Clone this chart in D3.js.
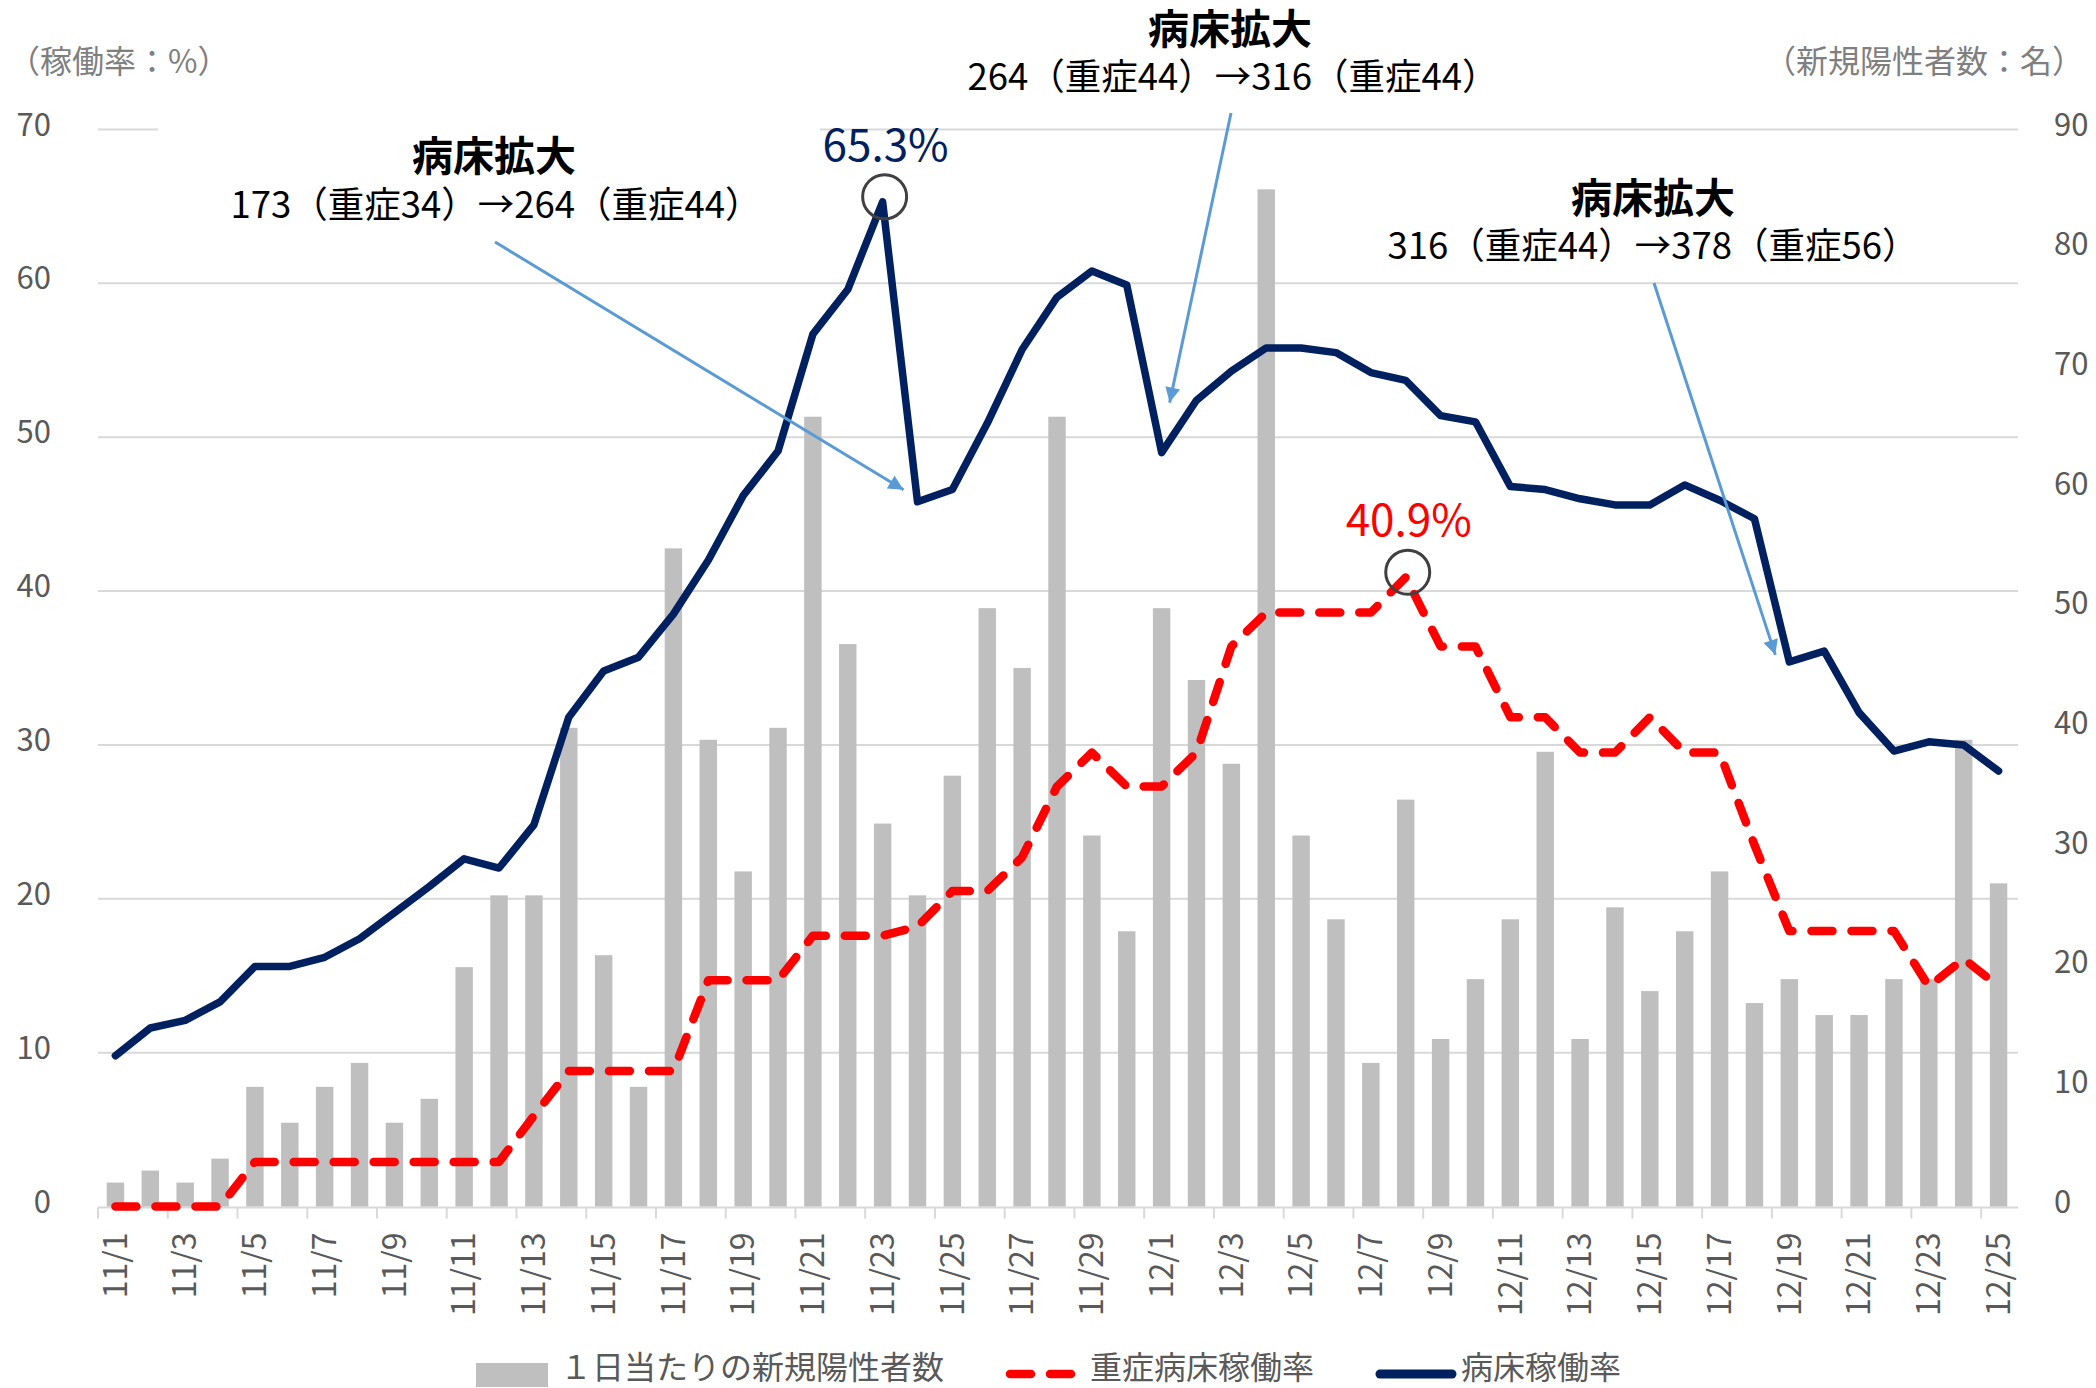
<!DOCTYPE html>
<html lang="ja">
<head>
<meta charset="utf-8">
<title>病床稼働率と新規陽性者数</title>
<script src="https://cdn.jsdelivr.net/npm/d3@7"></script>
<style>
	body { margin: 0; background: #fff; }
	svg { display: block; font-family: 'Noto Sans CJK JP', 'Noto Sans', sans-serif; }
</style>
</head>
<body>
<svg id="chart"></svg>
<script>
// ---- data ----
const dates = [
	'11/1', '11/2', '11/3', '11/4', '11/5', '11/6', '11/7', '11/8', '11/9', '11/10',
	'11/11', '11/12', '11/13', '11/14', '11/15', '11/16', '11/17', '11/18', '11/19', '11/20',
	'11/21', '11/22', '11/23', '11/24', '11/25', '11/26', '11/27', '11/28', '11/29', '11/30',
	'12/1', '12/2', '12/3', '12/4', '12/5', '12/6', '12/7', '12/8', '12/9', '12/10',
	'12/11', '12/12', '12/13', '12/14', '12/15', '12/16', '12/17', '12/18', '12/19', '12/20',
	'12/21', '12/22', '12/23', '12/24', '12/25',
];

// 1日当たりの新規陽性者数 (right axis)
const newCases = [
	2, 3, 2, 4, 10, 7, 10, 12, 7, 9,
	20, 26, 26, 40, 21, 10, 55, 39, 28, 40,
	66, 47, 32, 26, 36, 50, 45, 66, 31, 23,
	50, 44, 37, 85, 31, 24, 12, 34, 14, 19,
	24, 38, 14, 25, 18, 23, 28, 17, 19, 16,
	16, 19, 19, 39, 27,
];

// 重症病床稼働率 (left axis, %)
const severeRate = [
	0, 0, 0, 0, 2.9, 2.9, 2.9, 2.9, 2.9, 2.9,
	2.9, 2.9, 5.9, 8.8, 8.8, 8.8, 8.8, 14.7, 14.7, 14.7,
	17.6, 17.6, 17.6, 18.2, 20.5, 20.5, 22.7, 27.3, 29.5, 27.3,
	27.3, 29.5, 36.4, 38.6, 38.6, 38.6, 38.6, 40.9, 36.4, 36.4,
	31.8, 31.8, 29.5, 29.5, 31.8, 29.5, 29.5, 23.5, 17.9, 17.9,
	17.9, 17.9, 14.3, 16.1, 14.3,
];

// 病床稼働率 (left axis, %)
const bedRate = [
	9.8, 11.6, 12.1, 13.3, 15.6, 15.6, 16.2, 17.4, 19.1, 20.8,
	22.6, 22.0, 24.8, 31.8, 34.8, 35.7, 38.5, 42.0, 46.2, 49.1,
	56.7, 59.6, 65.3, 45.8, 46.6, 50.9, 55.7, 59.1, 60.8, 59.9,
	49.0, 52.4, 54.3, 55.8, 55.8, 55.5, 54.2, 53.7, 51.4, 51.0,
	46.8, 46.6, 46.0, 45.6, 45.6, 46.9, 45.9, 44.7, 35.4, 36.1,
	32.1, 29.6, 30.2, 30.0, 28.3,
];

const rateTicks = [0, 10, 20, 30, 40, 50, 60, 70];
const caseTicks = [0, 10, 20, 30, 40, 50, 60, 70, 80, 90];

const axisTitles = ['（稼働率：%）', '（新規陽性者数：名）'];
const legendLabels = ['１日当たりの新規陽性者数', '重症病床稼働率', '病床稼働率'];

// bed expansion notes, each pointing at a day of the 病床稼働率 line
const expansionTitles = ['病床拡大', '病床拡大', '病床拡大'];
const expansionTexts = [
	'173（重症34）→264（重症44）',
	'264（重症44）→316（重症44）',
	'316（重症44）→378（重症56）',
];
const expansionDates = ['11/24', '12/1', '12/19'];

// peak call-outs
const peakDates = ['11/23', '12/8'];
const peakLabels = ['65.3%', '40.9%'];

class OccupancyChart {
	constructor(_config) {
		this.config = {
			parentElement: _config.parentElement,
			containerWidth: 2096,
			containerHeight: 1388,
			plot: { left: 98, right: 2016, top: 129.5, bottom: 1206.5 },
			navy: '#002060',
			red: '#FF0000',
			barColor: '#BFBFBF',
			gridColor: '#D9D9D9',
			tickColor: '#595959',
			arrowColor: '#5B9BD5',
		};
		// where the note blocks sit and where their arrows start
		this.noteLayout = [
			{ cx: 494, titleY: 171, textX: 496, textY: 218, from: [495, 242], tip: [-14, -12] },
			{ cx: 1230, titleY: 44, textX: 1233, textY: 90, from: [1231, 113], tip: [8, -50] },
			{ cx: 1653, titleY: 213, textX: 1653, textY: 259, from: [1654, 283], tip: [-14, -7] },
		];
		this.initVis();
	}

	initVis() {
		let vis = this;
		const p = vis.config.plot;

		vis.svg = d3
			.select(vis.config.parentElement)
			.attr('width', vis.config.containerWidth)
			.attr('height', vis.config.containerHeight);

		vis.svg
			.append('rect')
			.attr('width', vis.config.containerWidth)
			.attr('height', vis.config.containerHeight)
			.attr('fill', '#fff');

		vis.x = d3
			.scaleBand()
			.domain(dates)
			.range([p.left, p.right])
			.paddingInner(0.5)
			.paddingOuter(0.25);

		vis.yRate = d3.scaleLinear().domain([0, 70]).range([p.bottom, p.top]);
		vis.yCases = d3.scaleLinear().domain([0, 90]).range([p.bottom, p.top]);

		vis.cx = (d) => vis.x(d) + vis.x.bandwidth() / 2;

		// arrow head for the notes
		vis.svg
			.append('defs')
			.append('marker')
			.attr('id', 'arrow')
			.attr('viewBox', '0 0 10 10')
			.attr('refX', 10)
			.attr('refY', 5)
			.attr('markerUnits', 'userSpaceOnUse')
			.attr('markerWidth', 20)
			.attr('markerHeight', 15)
			.attr('orient', 'auto')
			.append('path')
			.attr('d', 'M0,0L10,5L0,10z')
			.attr('fill', vis.config.arrowColor);

		vis.renderVis();
	}

	renderVis() {
		let vis = this;
		const p = vis.config.plot;

		// horizontal gridlines
		vis.svg
			.append('g')
			.selectAll('line')
			.data(rateTicks.slice(1))
			.join('line')
			.attr('x1', p.left)
			.attr('x2', p.right + 2)
			.attr('y1', (d) => vis.yRate(d))
			.attr('y2', (d) => vis.yRate(d))
			.attr('stroke', vis.config.gridColor)
			.attr('stroke-width', 2);

		// white box behind the first note hides part of the top gridline
		vis.svg
			.append('rect')
			.attr('x', 158)
			.attr('y', 104)
			.attr('width', 662)
			.attr('height', 126)
			.attr('fill', '#fff');

		// x axis line and ticks every two days
		vis.svg
			.append('line')
			.attr('x1', p.left)
			.attr('x2', p.right + 2)
			.attr('y1', p.bottom + 1)
			.attr('y2', p.bottom + 1)
			.attr('stroke', vis.config.gridColor)
			.attr('stroke-width', 2);

		const labelled = dates.filter((d, i) => i % 2 === 0);
		const gap = (vis.x.step() - vis.x.bandwidth()) / 2;

		vis.svg
			.append('g')
			.selectAll('line')
			.data(labelled)
			.join('line')
			.attr('x1', (d) => vis.x(d) - gap)
			.attr('x2', (d) => vis.x(d) - gap)
			.attr('y1', p.bottom + 1)
			.attr('y2', p.bottom + 12)
			.attr('stroke', vis.config.gridColor)
			.attr('stroke-width', 2);

		vis.svg
			.append('g')
			.selectAll('text')
			.data(labelled)
			.join('text')
			.attr('transform', (d) => `translate(${vis.cx(d)},${p.bottom + 26}) rotate(-90)`)
			.attr('dy', '0.35em')
			.attr('text-anchor', 'end')
			.attr('fill', vis.config.tickColor)
			.style('font-size', '32px')
			.text((d) => d);

		// y tick labels, left and right
		vis.svg
			.append('g')
			.selectAll('text')
			.data(rateTicks)
			.join('text')
			.attr('x', 51)
			.attr('y', (d) => vis.yRate(d) + 6)
			.attr('text-anchor', 'end')
			.attr('fill', vis.config.tickColor)
			.style('font-size', '31px')
			.text((d) => d);

		vis.svg
			.append('g')
			.selectAll('text')
			.data(caseTicks)
			.join('text')
			.attr('x', 2054)
			.attr('y', (d) => vis.yCases(d) + 6)
			.attr('fill', vis.config.tickColor)
			.style('font-size', '31px')
			.text((d) => d);

		// axis titles
		vis.svg
			.selectAll('.axis-title')
			.data(axisTitles)
			.join('text')
			.attr('class', 'axis-title')
			.attr('x', (d, i) => (i === 0 ? 8 : 2084))
			.attr('y', 73)
			.attr('text-anchor', (d, i) => (i === 0 ? 'start' : 'end'))
			.attr('fill', '#7F7F7F')
			.style('font-size', '32px')
			.text((d) => d);

		// bars: new positive cases
		vis.svg
			.append('g')
			.selectAll('rect')
			.data(newCases)
			.join('rect')
			.attr('x', (d, i) => vis.x(dates[i]))
			.attr('y', (d) => vis.yCases(d))
			.attr('width', vis.x.bandwidth())
			.attr('height', (d) => vis.yCases(0) - vis.yCases(d))
			.attr('fill', vis.config.barColor);

		// lines
		const line = (scale) =>
			d3
				.line()
				.x((d, i) => vis.cx(dates[i]))
				.y((d) => scale(d));

		vis.svg
			.append('path')
			.attr('d', line(vis.yRate)(severeRate))
			.attr('fill', 'none')
			.attr('stroke', vis.config.red)
			.attr('stroke-width', 8.5)
			.attr('stroke-dasharray', '21 19')
			.attr('stroke-linecap', 'round')
			.attr('stroke-linejoin', 'round');

		vis.svg
			.append('path')
			.attr('d', line(vis.yRate)(bedRate))
			.attr('fill', 'none')
			.attr('stroke', vis.config.navy)
			.attr('stroke-width', 7.5)
			.attr('stroke-linecap', 'round')
			.attr('stroke-linejoin', 'round');

		// peak circles and labels
		const peakValue = (i) =>
			i === 0
				? bedRate[dates.indexOf(peakDates[i])]
				: severeRate[dates.indexOf(peakDates[i])];

		peakDates.forEach((d, i) => {
			vis.svg
				.append('circle')
				.attr('cx', vis.cx(d) + 2)
				.attr('cy', vis.yRate(peakValue(i)) - 5)
				.attr('r', 22)
				.attr('fill', 'none')
				.attr('stroke', '#404040')
				.attr('stroke-width', 3);

			vis.svg
				.append('text')
				.attr('x', vis.cx(d) + 3)
				.attr('y', vis.yRate(peakValue(i)) - 41)
				.attr('text-anchor', 'middle')
				.attr('fill', i === 0 ? vis.config.navy : vis.config.red)
				.style('font-size', '44px')
				.text(peakLabels[i]);
		});

		// bed expansion notes with arrows
		expansionDates.forEach((d, i) => {
			const lay = vis.noteLayout[i];
			const v = bedRate[dates.indexOf(d)];

			vis.svg
				.append('line')
				.attr('x1', lay.from[0])
				.attr('y1', lay.from[1])
				.attr('x2', vis.cx(d) + lay.tip[0])
				.attr('y2', vis.yRate(v) + lay.tip[1])
				.attr('stroke', vis.config.arrowColor)
				.attr('stroke-width', 3)
				.attr('marker-end', 'url(#arrow)');

			vis.svg
				.append('text')
				.attr('x', lay.cx)
				.attr('y', lay.titleY)
				.attr('text-anchor', 'middle')
				.attr('font-weight', 'bold')
				.attr('fill', '#000')
				.style('font-size', '41px')
				.text(expansionTitles[i]);

			vis.svg
				.append('text')
				.attr('x', lay.textX)
				.attr('y', lay.textY)
				.attr('text-anchor', 'middle')
				.attr('fill', '#000')
				.style('font-size', '36.5px')
				.text(expansionTexts[i]);
		});

		vis.renderLegend();
	}

	renderLegend() {
		let vis = this;
		const ly = 1374;

		vis.svg
			.append('rect')
			.attr('x', 476)
			.attr('y', ly - 11)
			.attr('width', 72)
			.attr('height', 24)
			.attr('fill', vis.config.barColor);

		vis.svg
			.append('line')
			.attr('x1', 1010)
			.attr('x2', 1072)
			.attr('y1', ly)
			.attr('y2', ly)
			.attr('stroke', vis.config.red)
			.attr('stroke-width', 8.5)
			.attr('stroke-dasharray', '21 19')
			.attr('stroke-linecap', 'round');

		vis.svg
			.append('line')
			.attr('x1', 1380)
			.attr('x2', 1452)
			.attr('y1', ly)
			.attr('y2', ly)
			.attr('stroke', vis.config.navy)
			.attr('stroke-width', 9)
			.attr('stroke-linecap', 'round');

		vis.svg
			.selectAll('.legend-text')
			.data(legendLabels)
			.join('text')
			.attr('class', 'legend-text')
			.attr('x', (d, i) => [560, 1090, 1461][i])
			.attr('y', 1379)
			.attr('fill', vis.config.tickColor)
			.style('font-size', '32px')
			.text((d) => d);
	}
}

new OccupancyChart({ parentElement: '#chart' });
</script>
</body>
</html>
